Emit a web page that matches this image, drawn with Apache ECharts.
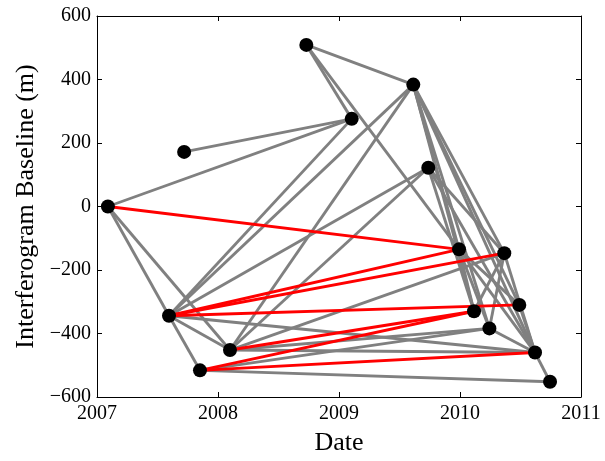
<!DOCTYPE html>
<html><head><meta charset="utf-8">
<script src="https://cdn.jsdelivr.net/npm/echarts@6/dist/echarts.min.js"></script>
<style>html,body{margin:0;padding:0;background:#fff}#c{width:605px;height:461px}</style>
</head><body><div id="c"></div>
<script>
// acquisition dates (decimal year) and perpendicular baselines (m)
var dates = [2007.09, 2007.72, 2008.73, 2009.105, 2009.614, 2009.738, 2009.992, 2010.366, 2010.49, 2010.116, 2010.243, 2010.62, 2010.744, 2007.595, 2008.099, 2007.851];
var baselines = [0, 172, 509, 276, 384, 122, -135, -147, -310, -330, -384, -460, -552, -344, -452, -516];
// interferogram pairs (indices into dates/baselines)
var grayPairs = [[0,3],[0,13],[0,14],[1,3],[2,3],[2,4],[2,6],[13,3],[13,4],[13,5],[13,14],[13,15],[13,11],
  [14,4],[14,5],[14,10],[14,7],[14,11],[15,12],[15,10],[4,6],[4,9],[4,10],[4,7],[4,11],[4,8],
  [5,9],[5,7],[5,11],[6,9],[6,10],[6,11],[6,8],[7,9],[7,10],[7,11],[8,11],[11,12],[10,11]];
var redPairs = [[0,6],[13,6],[13,7],[13,8],[14,9],[15,9],[15,11]];
var xTicks = [2007, 2011, 1];
var yTicks = [-600, 600, 200];

function toLines(pairs){
  return pairs.map(function(p){
    return {coords:[[dates[p[0]], baselines[p[0]]],[dates[p[1]], baselines[p[1]]]]};
  });
}
var pts = dates.map(function(d,i){return [d, baselines[i]];});

var font = '"Liberation Serif","DejaVu Serif",serif';
var chart = echarts.init(document.getElementById('c'), null, {renderer:'canvas'});
function axisCommon(){
  return {
    axisLine:{show:true, onZero:false, lineStyle:{color:'#000', width:1}},
    axisTick:{show:true, inside:true, length:5, lineStyle:{color:'#000', width:1}},
    splitLine:{show:false}
  };
}
chart.setOption({
  animation:false,
  grid:{left:97, right:24, top:16, bottom:62, containLabel:false},
  xAxis:[
    Object.assign({type:'value', min:xTicks[0], max:xTicks[1], interval:xTicks[2], position:'bottom',
      name:'Date', nameLocation:'middle', nameGap:33,
      nameTextStyle:{fontFamily:font, fontSize:26, color:'#000'},
      axisLabel:{fontFamily:font, fontSize:20, color:'#000', margin:7, formatter:function(v){return String(v);}}}, axisCommon()),
    Object.assign({type:'value', min:xTicks[0], max:xTicks[1], interval:xTicks[2], position:'top',
      axisLabel:{show:false}}, axisCommon())
  ],
  yAxis:[
    Object.assign({type:'value', min:yTicks[0], max:yTicks[1], interval:yTicks[2], position:'left',
      name:'Interferogram Baseline (m)', nameLocation:'middle', nameGap:58,
      nameTextStyle:{fontFamily:font, fontSize:26, color:'#000'},
      axisLabel:{fontFamily:font, fontSize:20, color:'#000', margin:6,
        formatter:function(v){return v < 0 ? '\u2212' + Math.abs(v) : String(v);}}}, axisCommon()),
    Object.assign({type:'value', min:yTicks[0], max:yTicks[1], interval:yTicks[2], position:'right',
      axisLabel:{show:false}}, axisCommon())
  ],
  series:[
    {type:'lines', coordinateSystem:'cartesian2d', xAxisIndex:0, yAxisIndex:0, z:2,
     lineStyle:{color:'#808080', width:2.9, opacity:1}, data:toLines(grayPairs)},
    {type:'lines', coordinateSystem:'cartesian2d', xAxisIndex:0, yAxisIndex:0, z:3,
     lineStyle:{color:'#ff0000', width:2.9, opacity:1}, data:toLines(redPairs)},
    {type:'scatter', xAxisIndex:0, yAxisIndex:0, z:4, symbol:'circle', symbolSize:14,
     itemStyle:{color:'#000', opacity:1}, data:pts}
  ]
});
</script></body></html>
